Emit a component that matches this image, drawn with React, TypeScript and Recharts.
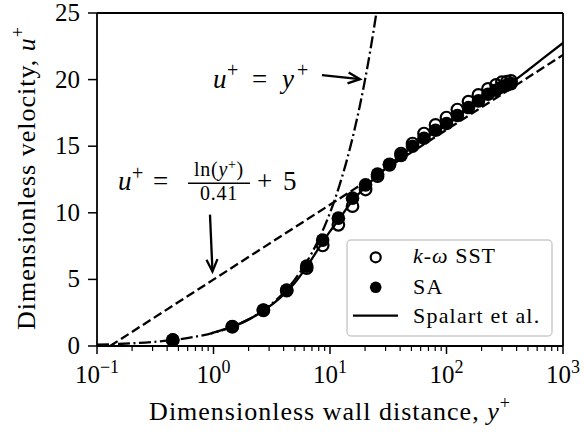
import React from 'react';
import { ComposedChart, Line, Scatter, XAxis, YAxis, ReferenceLine } from 'recharts';

const FONT = "'Liberation Serif', 'Times New Roman', serif";

// Simulation sample locations (y+) shared by both turbulence models
const simYPlus = [0.447, 1.45, 2.68, 4.25, 6.31, 8.65, 11.8, 15.6, 20.2, 25.6, 32.4, 40.7, 51.1, 64.1, 80.5, 100, 124, 154.5, 188, 227, 266, 299, 330, 358];
// k-omega SST results (u+)
const sstUPlus = [0.45, 1.45, 2.68, 4.15, 5.85, 7.55, 9.1, 10.5, 11.75, 12.75, 13.6, 14.45, 15.2, 15.95, 16.6, 17.15, 17.75, 18.35, 18.85, 19.3, 19.6, 19.8, 19.85, 19.9];
// SA results (u+)
const saUPlus = [0.45, 1.45, 2.7, 4.2, 6.0, 7.95, 9.6, 11.1, 12.1, 12.9, 13.65, 14.3, 15.0, 15.6, 16.2, 16.7, 17.3, 17.9, 18.4, 18.9, 19.2, 19.45, 19.6, 19.7];

// Spalart et al. reference profile
const spalartYPlus = [0.95, 1.45, 2, 2.68, 3.5, 4.25, 5, 6.31, 8.65, 10, 11.8, 15.6, 20.2, 25.6, 32.4, 50, 100, 200, 358, 500, 700, 1000];
const spalartUPlus = [0.95, 1.45, 1.98, 2.65, 3.4, 4.1, 4.75, 5.95, 7.8, 8.6, 9.45, 10.9, 11.95, 12.8, 13.6, 14.9, 16.6, 18.5, 19.75, 20.7, 21.7, 22.75];

// Viscous sublayer u+ = y+
const viscYPlus = [0.1, 0.15, 0.2, 0.3, 0.5, 0.7, 1, 1.5, 2, 3, 4, 5, 6, 7, 8, 10, 12, 14, 16, 18, 20, 22, 25];
const viscUPlus = [0.1, 0.15, 0.2, 0.3, 0.5, 0.7, 1, 1.5, 2, 3, 4, 5, 6, 7, 8, 10, 12, 14, 16, 18, 20, 22, 25];

// Log law u+ = ln(y+)/0.41 + 5
const logLawYPlus = [0.1295, 1000];
const logLawUPlus = [0, 21.85];

// Axis ticks
const xMajorTicks = [0.1, 1, 10, 100, 1000];
const xTickExponents = ['\u22121', '0', '1', '2', '3'];
const xMinorTicks = [0.2, 0.3, 0.4, 0.5, 0.6, 0.7, 0.8, 0.9, 2, 3, 4, 5, 6, 7, 8, 9, 20, 30, 40, 50, 60, 70, 80, 90, 200, 300, 400, 500, 600, 700, 800, 900];
const yTicks = [0, 5, 10, 15, 20, 25];

// Legend labels
const legendNames = ['SST', 'SA', 'Spalart et al.'];

// Annotation arrows (data coordinates: tail -> tip)
const arrowViscous = [{ x: 8.53, y: 20.33 }, { x: 18.1, y: 20.03 }];
const arrowLogLaw = [{ x: 0.933, y: 9.86 }, { x: 0.98, y: 5.6 }];

const toPoints = (xs: number[], us: number[]) => xs.map((x, i) => ({ x, u: us[i] }));
const sstData = toPoints(simYPlus, sstUPlus);
const saData = toPoints(simYPlus, saUPlus);
const spalartData = toPoints(spalartYPlus, spalartUPlus);
const viscData = toPoints(viscYPlus, viscUPlus);
const logLawData = toPoints(logLawYPlus, logLawUPlus);
const allXTicks = [...xMajorTicks, ...xMinorTicks].sort((a, b) => a - b);

const LW = 2.3;

const XTick = (props: any) => {
  const { x, y, payload } = props;
  const idx = xMajorTicks.findIndex((v) => Math.abs(v - payload.value) / v < 1e-6);
  const major = idx >= 0;
  return (
    <g>
      <line x1={x} x2={x} y1={y} y2={y + (major ? 8 : 5)} stroke="#000" strokeWidth={major ? 1.5 : 1.2} />
      {major && (
        <text x={x} y={y + 37} textAnchor="middle" fontFamily={FONT} fontSize={25} fill="#000">
          10<tspan dy={-10} fontSize={18}>{xTickExponents[idx]}</tspan>
        </text>
      )}
    </g>
  );
};

const YTick = (props: any) => {
  const { x, y, payload } = props;
  return (
    <text x={x} y={y + 8} textAnchor="end" fontFamily={FONT} fontSize={25} fill="#000">
      {payload.value}
    </text>
  );
};

const OpenCircle = (props: any) => {
  const { cx, cy } = props;
  return <circle cx={cx} cy={cy} r={5.8} fill="none" stroke="#000" strokeWidth={2.2} />;
};
const FilledCircle = (props: any) => {
  const { cx, cy } = props;
  return <circle cx={cx} cy={cy} r={6.8} fill="#000" stroke="none" />;
};

const Arrow = (props: any) => {
  const { x1, y1, x2, y2 } = props;
  const dx = x2 - x1;
  const dy = y2 - y1;
  const len = Math.sqrt(dx * dx + dy * dy) || 1;
  const ux = dx / len;
  const uy = dy / len;
  const hl = 12;
  const hw = 5.5;
  const bx = x2 - ux * hl;
  const by = y2 - uy * hl;
  const p1 = `${bx - uy * hw},${by + ux * hw}`;
  const p2 = `${bx + uy * hw},${by - ux * hw}`;
  return (
    <g>
      <line x1={x1} y1={y1} x2={x2} y2={y2} stroke="#000" strokeWidth={2.3} />
      <path d={`M${p1} L${x2},${y2} L${p2}`} fill="none" stroke="#000" strokeWidth={2.3} />
    </g>
  );
};

export default function App() {
  return (
    <div style={{ position: 'absolute', left: 0, top: 0, width: 584, height: 434, background: '#fff' }}>
      <ComposedChart width={584} height={434} margin={{ top: 13, right: 21, bottom: 0, left: 0 }}>
        <XAxis
          dataKey="x"
          type="number"
          scale="log"
          domain={[0.1, 1000]}
          ticks={allXTicks}
          interval={0}
          tick={XTick}
          tickLine={false}
          tickSize={0}
          tickMargin={0}
          height={88}
          axisLine={{ stroke: '#000', strokeWidth: 1.8 }}
          allowDataOverflow
        />
        <YAxis
          dataKey="u"
          type="number"
          domain={[0, 25]}
          ticks={yTicks}
          interval={0}
          tick={YTick}
          tickSize={9}
          tickMargin={8}
          width={97}
          tickLine={{ stroke: '#000', strokeWidth: 1.5 }}
          axisLine={{ stroke: '#000', strokeWidth: 1.8 }}
          allowDataOverflow
        />
        <ReferenceLine y={25} stroke="#000" strokeWidth={1.8} />
        <ReferenceLine x={1000} stroke="#000" strokeWidth={1.8} />
        <Line data={viscData} dataKey="u" type="monotone" stroke="#000" strokeWidth={LW} strokeDasharray="12 3.5 2 3.5" dot={false} activeDot={false} isAnimationActive={false} />
        <Line data={logLawData} dataKey="u" type="linear" stroke="#000" strokeWidth={LW} strokeDasharray="9 4" dot={false} activeDot={false} isAnimationActive={false} />
        <Line data={spalartData} dataKey="u" type="monotone" stroke="#000" strokeWidth={LW} dot={false} activeDot={false} isAnimationActive={false} />
        <Scatter data={sstData} dataKey="u" shape={OpenCircle} isAnimationActive={false} />
        <Scatter data={saData} dataKey="u" shape={FilledCircle} isAnimationActive={false} />
        <ReferenceLine segment={arrowViscous} shape={Arrow} />
        <ReferenceLine segment={arrowLogLaw} shape={Arrow} />
      </ComposedChart>
      <svg width={584} height={434} style={{ position: 'absolute', left: 0, top: 0, pointerEvents: 'none' }} fontFamily={FONT} fill="#000">
        {/* axis titles */}
        <text x={330} y={420} textAnchor="middle" fontSize={26} letterSpacing={1}>
          Dimensionless wall distance, <tspan fontStyle="italic">y</tspan>
          <tspan fontSize={18} dy={-11}>+</tspan>
        </text>
        <text transform="translate(35,178) rotate(-90)" textAnchor="middle" fontSize={26} letterSpacing={1}>
          Dimensionless velocity, <tspan fontStyle="italic">u</tspan>
          <tspan fontSize={18} dy={-11}>+</tspan>
        </text>
        {/* u+ = y+ annotation */}
        <text fontSize={27}>
          <tspan x={213} y={88} fontStyle="italic">u</tspan>
          <tspan x={227} y={77} fontSize={20}>+</tspan>
          <tspan x={252} y={88}>=</tspan>
          <tspan x={282} y={88} fontStyle="italic">y</tspan>
          <tspan x={297} y={77} fontSize={20}>+</tspan>
        </text>
        {/* log-law annotation */}
        <text fontSize={27}>
          <tspan x={118} y={190} fontStyle="italic">u</tspan>
          <tspan x={132} y={180} fontSize={20}>+</tspan>
          <tspan x={153} y={190}>=</tspan>
          <tspan x={257} y={190}>+</tspan>
          <tspan x={283} y={190}>5</tspan>
        </text>
        <text x={219} y={176} textAnchor="middle" fontSize={20} letterSpacing={0.7}>
          ln(<tspan fontStyle="italic">y</tspan><tspan fontSize={14} dy={-7}>+</tspan><tspan dy={7}>)</tspan>
        </text>
        <line x1={188} x2={250} y1={183.3} y2={183.3} stroke="#000" strokeWidth={1.4} />
        <text x={219} y={199.5} textAnchor="middle" fontSize={20} letterSpacing={0.7}>0.41</text>
        {/* legend */}
        <rect x={347} y={240} width={205} height={96} rx={4} ry={4} fill="#fff" fillOpacity={0.8} stroke="#cccccc" strokeWidth={1.5} />
        <circle cx={375.7} cy={257.3} r={5} fill="none" stroke="#000" strokeWidth={2.2} />
        <circle cx={375.7} cy={287.3} r={5.8} fill="#000" />
        <line x1={353} x2={398} y1={315.7} y2={315.7} stroke="#000" strokeWidth={LW} />
        <text x={413} y={263} fontSize={22} letterSpacing={1}>
          <tspan fontStyle="italic">k</tspan>-<tspan fontStyle="italic">{'\u03c9'}</tspan> {legendNames[0]}
        </text>
        <text x={413} y={294.3} fontSize={22} letterSpacing={1.2}>{legendNames[1]}</text>
        <text x={413} y={323.3} fontSize={22} letterSpacing={1.2}>{legendNames[2]}</text>
      </svg>
    </div>
  );
}
